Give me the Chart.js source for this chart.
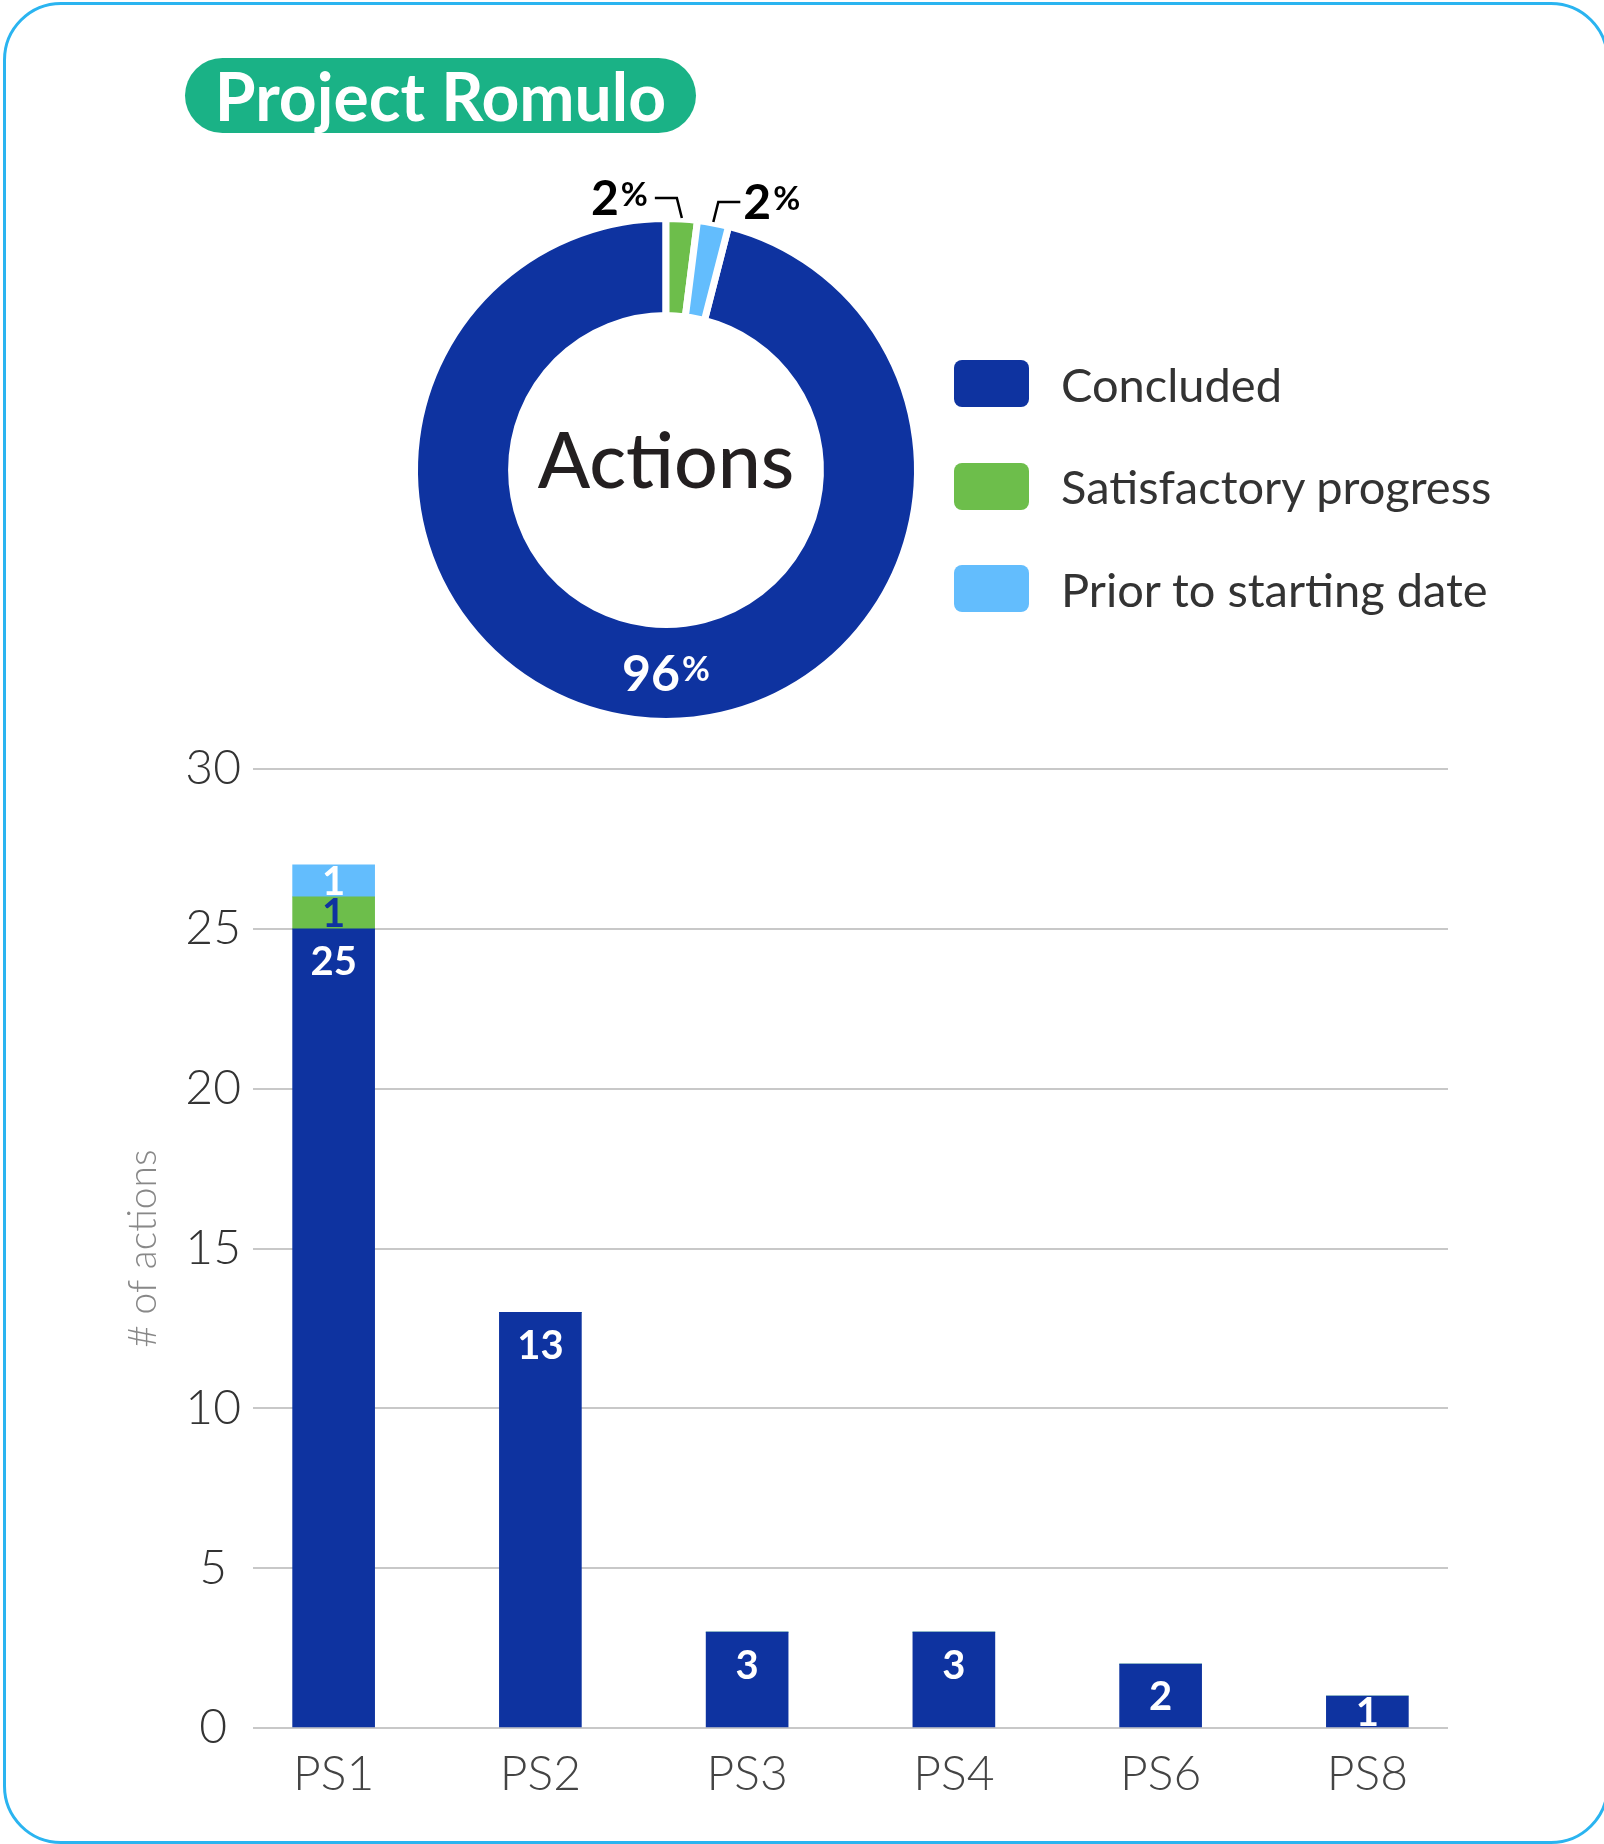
<!DOCTYPE html>
<html>
<head>
<meta charset="utf-8">
<title>Project Romulo</title>
<script src="https://cdn.jsdelivr.net/npm/chart.js@4.4.1/dist/chart.umd.min.js"></script>
<style>
  html, body { margin: 0; padding: 0; background: #fff; }
  body { width: 1604px; height: 1844px; position: relative; overflow: hidden; font-family: Lato, sans-serif; }
  .frame {
    position: absolute; left: 3px; top: 2px; width: 1600px; height: 1836px;
    border: 3px solid #2ab4f0; border-radius: 58px;
  }
  .title {
    position: absolute; left: 185px; top: 58px; width: 511px; height: 75px;
    border-radius: 38px; background: #1ab286; color: #fff;
    font: bold 66px Lato; line-height: 75px; text-align: center;
  }
  #donutBox { position: absolute; left: 366px; top: 170px; width: 600px; height: 600px; }
  #barBox { position: absolute; left: 0; top: 700px; width: 1604px; height: 1120px; }
  #legend { position: absolute; left: 954px; top: 360px; }
  .item { display: flex; align-items: center; height: 47px; margin-bottom: 55.5px; }
  .swatch { width: 75px; height: 47px; border-radius: 8px; margin-right: 32px; }
  .item span { font: 47px Lato; color: #333; white-space: nowrap; }
</style>
</head>
<body>
<div class="frame"></div>
<div class="title">Project Romulo</div>
<div id="donutBox"><canvas id="donutChart" width="600" height="600"></canvas></div>
<div id="legend"></div>
<div id="barBox"><canvas id="barChart" width="1604" height="1120"></canvas></div>

<script>
// Status groups and their colours
const statusLabels = ['Concluded', 'Satisfactory progress', 'Prior to starting date'];
const statusColors = ['#0e33a0', '#6dbe4b', '#63bdfd'];

// Share of actions per status (%)
const statusShares = [96, 2, 2];

// Actions per priority stream
const streams = ['PS1', 'PS2', 'PS3', 'PS4', 'PS6', 'PS8'];
const concluded = [25, 13, 3, 3, 2, 1];
const satisfactory = [1, 0, 0, 0, 0, 0];
const priorToStart = [1, 0, 0, 0, 0, 0];

const yTicks = [0, 5, 10, 15, 20, 25, 30];

// Legend next to the doughnut
const legendEl = document.getElementById('legend');
statusLabels.forEach((label, i) => {
    const row = document.createElement('div');
    row.className = 'item';
    row.innerHTML = `<div class="swatch" style="background:${statusColors[i]}"></div><span>${label}</span>`;
    legendEl.appendChild(row);
});

// Number with a smaller, raised percent sign
function drawPercent(ctx, value, x, midY, size, align) {
    const num = String(value);
    const big = `bold ${size}px Lato`;
    const small = `bold ${Math.round(size * 0.68)}px Lato`;
    ctx.font = big;
    const w1 = ctx.measureText(num).width;
    ctx.font = small;
    const w2 = ctx.measureText('%').width;
    const total = w1 + 2 + w2;
    const left = align === 'right' ? x - total : align === 'center' ? x - total / 2 : x;
    const base = midY + size * 0.36;
    ctx.textAlign = 'left';
    ctx.textBaseline = 'alphabetic';
    ctx.font = big;
    ctx.fillText(num, left, base);
    ctx.font = small;
    ctx.fillText('%', left + w1 + 2, base - size * 0.2);
}

const donutLabels = {
    id: 'donutLabels',
    afterDatasetsDraw(chart) {
        const ctx = chart.ctx;
        const arcs = chart.getDatasetMeta(0).data;
        const values = chart.data.datasets[0].data;
        const cx = arcs[0].x, cy = arcs[0].y;
        ctx.save();

        ctx.fillStyle = '#231f20';
        ctx.font = '500 77px Lato';
        ctx.textAlign = 'center';
        ctx.textBaseline = 'alphabetic';
        ctx.fillText('Actions', cx, cy + 18);

        // big share sits at the bottom of the ring
        const big = arcs[0];
        ctx.fillStyle = '#fff';
        drawPercent(ctx, values[0], cx, cy + (big.outerRadius + big.innerRadius) / 2, 50, 'center');

        // small shares get leader lines above the ring
        ctx.strokeStyle = '#000';
        ctx.lineWidth = 2.5;
        ctx.fillStyle = '#000';
        [1, 2].forEach(i => {
            const a = arcs[i];
            const mid = (a.startAngle + a.endAngle) / 2;
            const r = a.outerRadius + 1;
            const px = cx + Math.cos(mid) * r;
            const py = cy + Math.sin(mid) * r;
            const dir = i === 1 ? -1 : 1;
            const ex = px + dir * 5, ey = py - 20;
            const hx = ex + dir * 22;
            ctx.beginPath();
            ctx.moveTo(px, py);
            ctx.lineTo(ex, ey);
            ctx.lineTo(hx, ey);
            ctx.stroke();
            if (dir < 0) drawPercent(ctx, values[i], hx - 7, ey, 48, 'right');
            else drawPercent(ctx, values[i], hx + 3, ey, 48, 'left');
        });
        ctx.restore();
    }
};

const otherShare = statusShares.slice(1).reduce((s, v) => s + v, 0);
const shareTotal = statusShares.reduce((s, v) => s + v, 0);

new Chart(document.getElementById('donutChart'), {
    type: 'doughnut',
    data: {
        labels: statusLabels,
        datasets: [{
            data: statusShares,
            backgroundColor: statusColors,
            borderColor: '#fff',
            borderWidth: 7
        }]
    },
    options: {
        responsive: false,
        animation: false,
        cutout: '61.4%',
        rotation: 360 * otherShare / shareTotal,
        layout: { padding: 45 },
        plugins: {
            legend: { display: false },
            tooltip: { enabled: false }
        }
    },
    plugins: [donutLabels]
});

// Value labels inside the bars
const barValueLabels = {
    id: 'barValueLabels',
    afterDatasetsDraw(chart) {
        const ctx = chart.ctx;
        ctx.save();
        ctx.font = 'bold 40px Lato';
        ctx.textAlign = 'center';
        ctx.textBaseline = 'alphabetic';
        chart.data.datasets.forEach((ds, di) => {
            chart.getDatasetMeta(di).data.forEach((bar, j) => {
                const v = ds.data[j].y;
                if (!v) return;
                const top = Math.min(bar.y, bar.base);
                const h = Math.abs(bar.base - bar.y);
                const mid = di === 0 ? top + Math.min(32, h / 2) : top + h / 2;
                ctx.fillStyle = ds.labelColor;
                ctx.fillText(String(v), bar.x, mid + 40 * 0.36);
            });
        });
        ctx.restore();
    }
};

const toPoints = arr => arr.map((v, i) => ({ x: i, y: v }));

new Chart(document.getElementById('barChart'), {
    type: 'bar',
    data: {
        datasets: [
            { label: statusLabels[0], data: toPoints(concluded), backgroundColor: statusColors[0], labelColor: '#fff' },
            { label: statusLabels[1], data: toPoints(satisfactory), backgroundColor: statusColors[1], labelColor: statusColors[0] },
            { label: statusLabels[2], data: toPoints(priorToStart), backgroundColor: statusColors[2], labelColor: '#fff' }
        ]
    },
    options: {
        responsive: false,
        animation: false,
        layout: { padding: { left: 0, right: 156, top: 69, bottom: 0 } },
        datasets: { bar: { barThickness: 82, borderWidth: 0 } },
        scales: {
            x: {
                type: 'linear',
                bounds: 'data',
                offset: false,
                stacked: true,
                min: -0.39,
                max: 5.39,
                afterBuildTicks: axis => { axis.ticks = streams.map((s, i) => ({ value: i })); },
                afterFit: axis => { axis.height = 92; },
                grid: { display: false },
                border: { display: false },
                ticks: {
                    callback: v => streams[v],
                    padding: 10,
                    color: '#444',
                    font: { family: 'Lato', size: 48, weight: '300' }
                }
            },
            y: {
                stacked: true,
                min: 0,
                max: 30,
                afterBuildTicks: axis => { axis.ticks = yTicks.map(v => ({ value: v })); },
                afterFit: axis => { axis.width = 253; },
                grid: { color: '#c8c8c8', lineWidth: 2, drawTicks: false },
                border: { display: false },
                ticks: {
                    padding: 12,
                    crossAlign: 'center',
                    color: '#333',
                    font: { family: 'Lato', size: 48, weight: '300' }
                },
                title: {
                    display: true,
                    text: '# of actions',
                    color: '#888',
                    padding: { top: 120, bottom: 0 },
                    font: { family: 'Lato', size: 39, weight: '300' }
                }
            }
        },
        plugins: {
            legend: { display: false },
            tooltip: { enabled: false }
        }
    },
    plugins: [barValueLabels]
});
</script>
</body>
</html>
